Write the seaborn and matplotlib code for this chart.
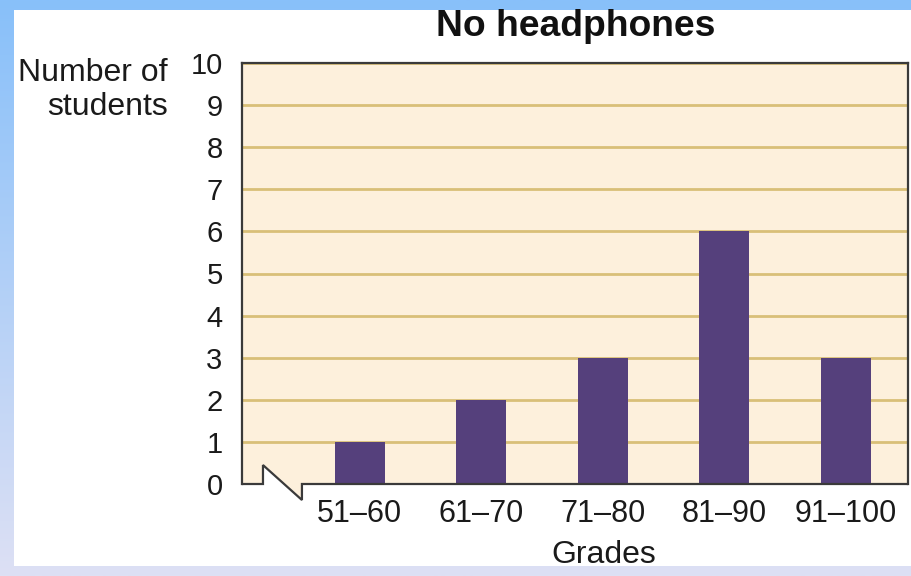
import numpy as np
import pandas as pd
import matplotlib
matplotlib.use("Agg")
import matplotlib.pyplot as plt
import seaborn as sns
from matplotlib.patches import Rectangle, Polygon
from matplotlib.lines import Line2D

# Data
grades = ["51\u201360", "61\u201370", "71\u201380", "81\u201390", "91\u2013100"]
students = [1, 2, 3, 6, 3]
y_ticks = list(range(0, 11))

title = "No headphones"
x_label = "Grades"
y_label = "Number of\nstudents"

sns.set_theme(style="white")
plt.rcParams["font.family"] = ["Liberation Sans", "DejaVu Sans"]

W, H = 912, 576
fig = plt.figure(figsize=(W / 100, H / 100), dpi=100)

# Blue gradient frame behind a white panel
bg = fig.add_axes([0, 0, 1, 1], zorder=-10)
top_col = np.array(matplotlib.colors.to_rgb("#88c0fa"))
bot_col = np.array(matplotlib.colors.to_rgb("#dde0f4"))
t = np.linspace(0, 1, 256)[:, None]
grad = top_col[None, :] * (1 - t) + bot_col[None, :] * t
bg.imshow(grad[:, None, :], aspect="auto", extent=[0, 1, 0, 1], origin="upper")
bg.add_patch(Rectangle((14 / W, 1 - 566 / H), (W - 14) / W, (566 - 10) / H,
                       facecolor="white", edgecolor="none"))
bg.set_xlim(0, 1)
bg.set_ylim(0, 1)
bg.axis("off")

ax = fig.add_axes([242 / W, 1 - 484 / H, (908 - 242) / W, (484 - 63) / H])
ax.patch.set_visible(False)

df = pd.DataFrame({"Grades": grades, "Students": students})
sns.barplot(data=df, x="Grades", y="Students", order=grades, color="#55407c",
            saturation=1, width=0.41, ax=ax, zorder=3,
            edgecolor="none", linewidth=0)

ax.set_xlim(-0.967, 4.51)
ax.set_ylim(0, 10)
ax.set_yticks(y_ticks)
ax.set_yticklabels([str(v) for v in y_ticks])

# Plot-area fill with the axis-break notch along the bottom edge
bx0, bx1, by_top, by_bot = 0.0315, 0.090, 0.045, -0.038
outline = [(0, 0), (bx0, 0), (bx0, by_top), (bx1, by_bot), (bx1, 0), (1, 0)]
ax.add_patch(Polygon(outline + [(1, 1), (0, 1)], closed=True,
                     transform=ax.transAxes, facecolor="#fdf0dc",
                     edgecolor="none", zorder=0, clip_on=False))
ax.add_line(Line2D([p[0] for p in outline], [p[1] for p in outline],
                   transform=ax.transAxes, color="#3a3a3a", lw=1.6,
                   clip_on=False, zorder=5, solid_joinstyle="miter"))

ax.yaxis.grid(True, color="#d9bf78", lw=2.0, zorder=1)
ax.set_axisbelow(True)
ax.get_ygridlines()[0].set_visible(False)

for side in ["left", "top", "right"]:
    ax.spines[side].set_visible(True)
    ax.spines[side].set_color("#3a3a3a")
    ax.spines[side].set_linewidth(1.6)
ax.spines["bottom"].set_visible(False)

ax.tick_params(axis="both", length=0, labelsize=21, colors="#1a1a1a")
ax.tick_params(axis="x", pad=11, labelsize=22)
ax.tick_params(axis="y", pad=14)
ax.set_xlabel("")
ax.set_ylabel("")

fig.text(576 / W, 1 - 26 / H, title, ha="center", va="center",
         fontsize=26.8, fontweight="bold", color="#111111")
fig.text(604 / W, 1 - 555 / H, x_label, ha="center", va="center",
         fontsize=23, color="#1a1a1a")
fig.text(168 / W, 1 - 90 / H, y_label, ha="right", va="center",
         multialignment="right", fontsize=23, color="#1a1a1a", linespacing=1.2)

fig.savefig("out.png", dpi=100)
